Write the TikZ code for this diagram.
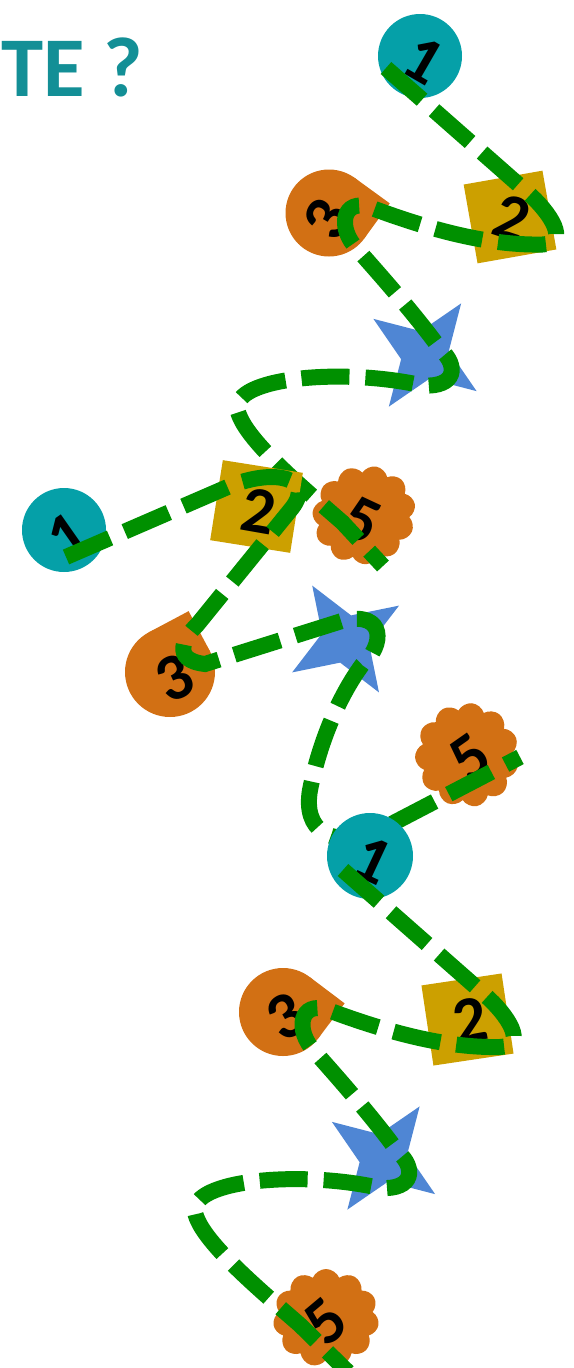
\documentclass[tikz,border=0pt]{standalone}
\usepackage{fontspec}
\setmainfont{Carlito}
\usetikzlibrary{shapes.geometric,shapes.symbols,calc}
\definecolor{tealA}{HTML}{05A0A8}
\definecolor{goldA}{HTML}{CCA000}
\definecolor{orangeA}{HTML}{D27014}
\definecolor{blueA}{HTML}{4F86D4}
\definecolor{greenA}{HTML}{009000}
\definecolor{titleA}{HTML}{138F96}
\tikzset{
  disc/.style={circle, fill=tealA, minimum size=84pt, inner sep=0pt, outer sep=0pt},
  tile/.style={rectangle, fill=goldA, minimum size=80pt, inner sep=0pt, outer sep=0pt},
  drop/.style={circle, fill=orangeA, minimum size=87pt, inner sep=0pt, outer sep=0pt},
  spark/.style={star, star points=4, star point ratio=2.6, fill=blueA, minimum size=126pt, inner sep=0pt, outer sep=0pt},
  puff/.style={cloud, cloud puffs=11, cloud puff arc=135, aspect=1, fill=orangeA, minimum width=104pt, minimum height=98pt, inner sep=0pt, outer sep=0pt},
  num/.style={font=\bfseries\fontsize{66}{66}\selectfont, inner sep=0pt},
  trail/.style={draw=greenA, line width=16pt, dash pattern=on 48pt off 16pt},
}
\begin{document}
\begin{tikzpicture}[x=1pt,y=-1pt]
        \useasboundingbox (0,0) rectangle (573,1368);
        \node[font=\bfseries\fontsize{85}{85}\selectfont, text=titleA, anchor=base west, inner sep=0pt] (title) at (1,96) {TE ?};
        % first round
        \node[disc] (a1) at (420,56) {};
        \node[tile, rotate=10] (a2) at (510,217) {};
        \node[drop] (a3) at (329,213) {};
        \fill[orangeA] (a3.center) -- (a3.-36) -- ($(a3.center)!1.414!(a3.9)$) -- (a3.54) -- cycle;
        \node[spark, rotate=-35] (a4) at (425,355) {};
        \node[puff, rotate=20] (a5) at (364,515) {};
        \node[num, rotate=-30] (a1n) at (424,60) {1};
        \node[num, rotate=-18] (a2n) at (512,218) {2};
        \node[num, rotate=60] (a3n) at (327,219) {3};
        \node[num, rotate=-25] (a5n) at (362,520) {5};
        \draw[trail] ($(a1)+(-34,12)$) -- (527.5,192.5)
            .. controls (550.5,212.5) and (570.5,243.5) .. (542.5,244.5)
            .. controls (492.5,245.5) and (437.5,232.5) .. (370.5,207.5)
            .. controls (342.5,197.5) and (336.5,227.5) .. (357.5,249.5)
            .. controls (382.5,277.5) and (417.5,317.5) .. (440.5,349.5)
            .. controls (458.5,365.5) and (456.5,387.5) .. (422.5,385.5)
            .. controls (342.5,367.5) and (232.5,377.5) .. (237.5,409.5)
            .. controls (242.5,437.5) and (302.5,487.5) .. (342.5,522.5)
            -- ($(a5)+(19,51)$);
        % second round
        \node[disc] (b1) at (64,530) {};
        \node[tile, rotate=-9, minimum size=81pt] (b2) at (256.5,506.5) {};
        \node[drop, minimum size=90pt] (b3) at (170,672) {};
        \fill[orangeA] (b3.center) -- (b3.28) -- ($(b3.center)!1.414!(b3.73)$) -- (b3.118) -- cycle;
        \node[spark, rotate=32] (b4) at (345.6,639) {};
        \node[puff, rotate=60, minimum height=104pt] (b5) at (467,755) {};
        \node[num, rotate=35] (b1n) at (68,536) {1};
        \node[num, rotate=-10] (b2n) at (259,511) {2};
        \node[num, rotate=25] (b3n) at (175,678) {3};
        \node[num, rotate=35] (b5n) at (470,758) {5};
        \draw[trail] ($(b1)+(2,27)$) -- (230,486)
            .. controls (275,468) and (315,478) .. (292,508) -- (197,625)
            .. controls (185,636) and (170,660) .. (205,664) -- (345,620)
            .. controls (385,612) and (385,645) .. (362,665)
            .. controls (340,695) and (320,740) .. (310,790)
            .. controls (303,830) and (330,850) .. (380,830)
            -- ($(b5)+(53,2)$);
        % third round
        \node[disc, minimum size=86pt] (c1) at (370,856) {};
        \node[tile, rotate=8.5, minimum size=81pt] (c2) at (467.5,1019.5) {};
        \node[drop, minimum size=88pt] (c3) at (283,1012) {};
        \fill[orangeA] (c3.center) -- (c3.-37) -- ($(c3.center)!1.414!(c3.8)$) -- (c3.53) -- cycle;
        \node[spark, rotate=-35] (c4) at (383.5,1158) {};
        \node[puff, minimum width=106pt] (c5) at (326,1318) {};
        \node[num, rotate=-25] (c1n) at (373,860) {1};
        \node[num, rotate=10] (c2n) at (470,1020) {2};
        \node[num, rotate=30] (c3n) at (286,1017) {3};
        \node[num, rotate=40] (c5n) at (326,1322) {5};
        \draw[trail] ($(c1)+(-27,14)$) -- (485,995)
            .. controls (508,1015) and (528,1046) .. (500,1047)
            .. controls (450,1048) and (395,1035) .. (328,1010)
            .. controls (300,1000) and (294,1030) .. (315,1052)
            .. controls (340,1080) and (375,1120) .. (398,1152)
            .. controls (416,1168) and (414,1190) .. (380,1188)
            .. controls (300,1170) and (190,1180) .. (195,1212)
            .. controls (200,1240) and (260,1290) .. (300,1325)
            -- ($(c5)+(22,54)$);
\end{tikzpicture}
\end{document}
